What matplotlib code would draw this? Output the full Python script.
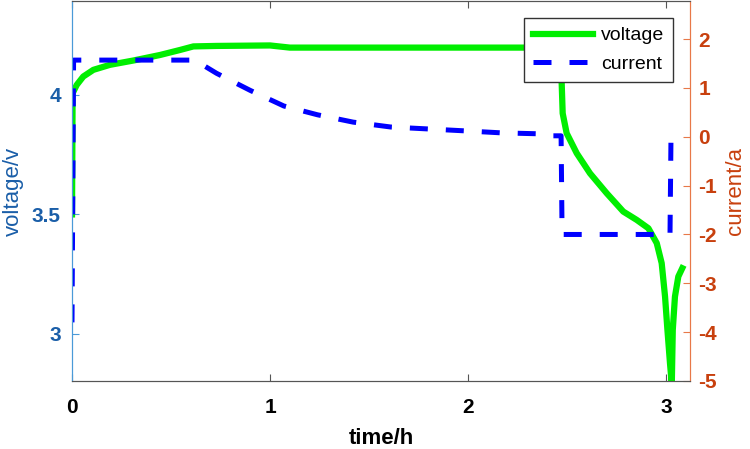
import matplotlib.pyplot as plt

plt.rcParams['font.family'] = ['Liberation Sans', 'DejaVu Sans']

# voltage curve (left axis)
volt_t = [0, 0.003, 0.024, 0.057, 0.108, 0.192, 0.31, 0.444, 0.545, 0.613, 0.73,
          1.0, 1.1, 2.44, 2.46, 2.468, 2.473, 2.478, 2.498, 2.549, 2.616, 2.70,
          2.784, 2.852, 2.911, 2.953, 2.978, 2.995, 3.007, 3.020, 3.029, 3.034,
          3.045, 3.062, 3.082]
volt_v = [3.5, 4.007, 4.042, 4.077, 4.105, 4.126, 4.144, 4.167, 4.188, 4.203, 4.205,
          4.207, 4.198, 4.198, 4.18, 4.12, 4.049, 3.923, 3.840, 3.756, 3.672, 3.589,
          3.512, 3.477, 3.442, 3.380, 3.296, 3.156, 3.017, 2.877, 2.79, 3.017,
          3.156, 3.240, 3.275]

# current curve (right axis)
curr_t = [0, 0.008, 0.62, 0.73, 0.90, 1.07, 1.24, 1.42, 1.61, 1.80, 1.99, 2.17,
          2.37, 2.40, 2.47, 2.475, 3.02, 3.025]
curr_i = [-3.8, 1.57, 1.57, 1.30, 0.95, 0.63, 0.45, 0.30, 0.20, 0.16, 0.12, 0.08,
          0.06, 0.02, 0.02, -2.0, -2.0, 0.0]

x_ticks = [0, 1, 2, 3]
v_ticks = [3, 3.5, 4]
v_tick_labels = ['3', '3.5', '4']
i_ticks = [-5, -4, -3, -2, -1, 0, 1, 2]

left_col = '#1a5ea8'
left_spine = '#4a9ad8'
right_col = '#c8400e'
right_spine = '#e87848'

fig = plt.figure(figsize=(7.5, 4.49), dpi=100)
ax = fig.add_axes([72 / 750, 68 / 449, 618 / 750, 380 / 449])
ax2 = ax.twinx()

l1, = ax.plot(volt_t, volt_v, color='#00ee00', lw=4.5, label='voltage')
l2, = ax2.plot(curr_t, curr_i, color='#0000ff', lw=3.6, label='current')
l2.set_dashes((3.6, 3.6))

ax.set_xlim(0, 3.121)
ax.set_ylim(2.803, 4.393)
ax2.set_ylim(-5, 2.78)

ax.set_xticks(x_ticks)
ax.set_xticklabels([str(x) for x in x_ticks], fontsize=15, fontweight='bold')
ax.set_yticks(v_ticks)
ax.set_yticklabels(v_tick_labels, fontsize=15, fontweight='bold', color=left_col)
ax2.set_yticks(i_ticks)
ax2.set_yticklabels([str(i) for i in i_ticks], fontsize=15, fontweight='bold', color=right_col)

ax.tick_params(axis='x', direction='in', top=True, length=5, color='#555555', pad=12)
ax.tick_params(axis='y', direction='in', length=5, color=left_spine, pad=8)
ax2.tick_params(axis='y', direction='in', length=5, color=right_spine, pad=6)

for a in (ax, ax2):
    a.spines['top'].set_color('#555555')
    a.spines['bottom'].set_color('#555555')
    a.spines['left'].set_color(left_spine)
    a.spines['right'].set_color(right_spine)

ax.set_xlabel('time/h', fontsize=16, fontweight='bold', labelpad=8)
ax.set_ylabel('voltage/v', fontsize=16, color=left_col, labelpad=6)
ax2.set_ylabel('current/a', fontsize=16, color=right_col, labelpad=6)

leg = ax2.legend([l1, l2], ['voltage', 'current'], loc='upper right',
                 bbox_to_anchor=(0.9725, 0.955), fontsize=14, fancybox=False,
                 edgecolor='#333333', framealpha=1, handlelength=3.1,
                 handletextpad=0.4, labelspacing=0.55, borderpad=0.45,
                 borderaxespad=0)
leg.get_frame().set_linewidth(1.0)

fig.savefig('out.png', dpi=100)
